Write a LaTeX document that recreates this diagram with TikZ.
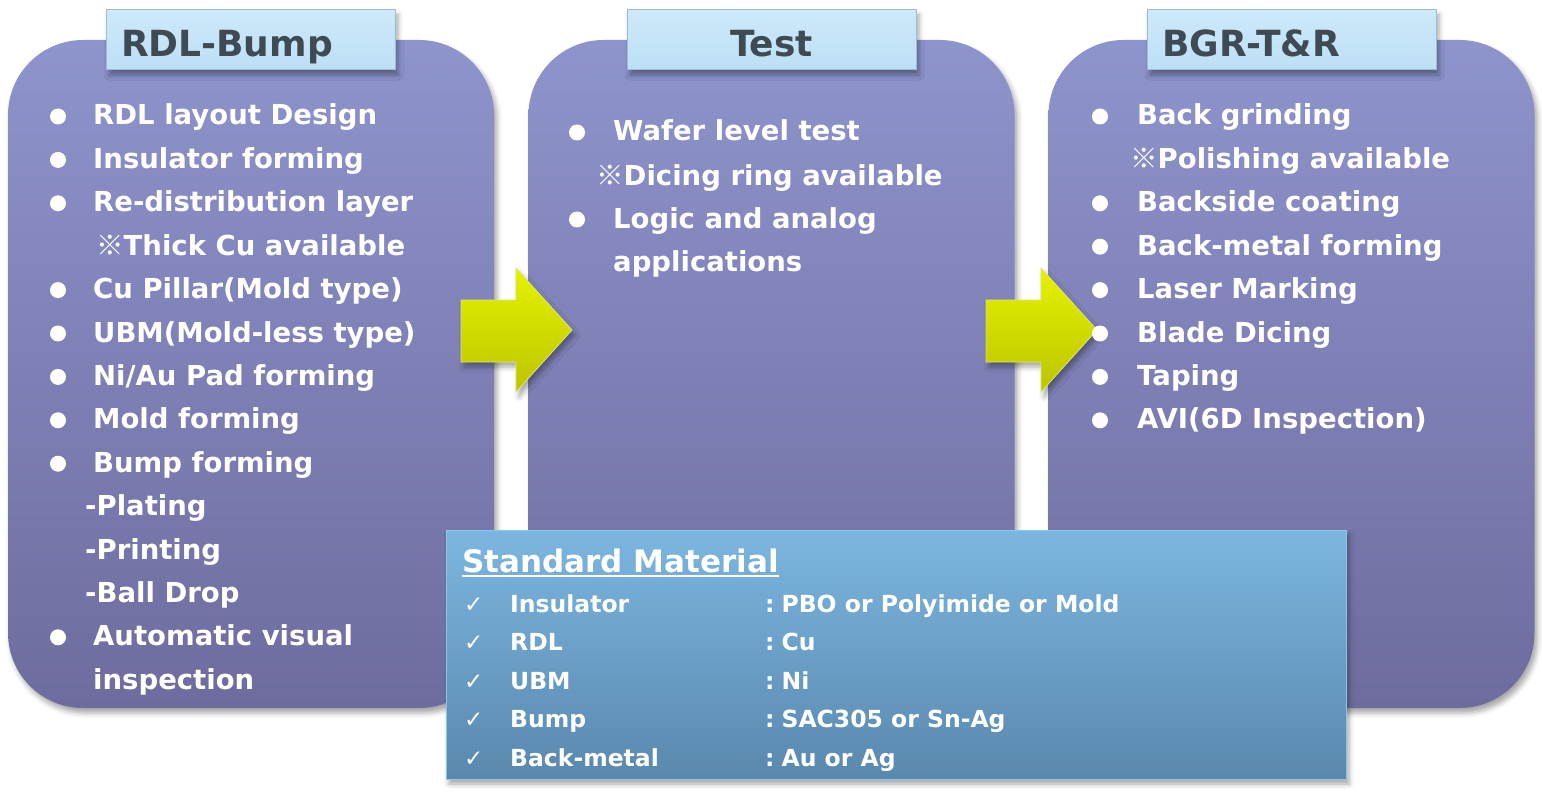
\documentclass[tikz,border=0pt]{standalone}
\usepackage{fontspec}
\setmainfont{DejaVu Sans}
\newfontfamily\cjk{Noto Sans CJK JP}
\usetikzlibrary{shadows.blur,positioning}
\definecolor{paneltop}{HTML}{8E94CC}
\definecolor{panelbot}{HTML}{6E6C9E}
\definecolor{titletop}{HTML}{CDE9FA}
\definecolor{titlebot}{HTML}{BDDFF4}
\definecolor{titleline}{HTML}{9FBDD0}
\definecolor{titletext}{HTML}{3E4A54}
\definecolor{mattop}{HTML}{7CB6E0}
\definecolor{matbot}{HTML}{5A88AD}
\definecolor{matline}{HTML}{8EC6EA}
\definecolor{arrowtop}{HTML}{E6F200}
\definecolor{arrowbot}{HTML}{BCC400}
\definecolor{arrowline}{HTML}{DDE86A}

\begin{document}
\begin{tikzpicture}[x=1pt,y=-1pt,
  soft shadow/.style={blur shadow={shadow xshift=3pt,shadow yshift=-5pt,shadow opacity=35,shadow blur radius=5pt}},
  panel/.style={rounded corners=75pt,top color=paneltop,bottom color=panelbot,minimum width=486pt,minimum height=668pt,inner sep=0pt,soft shadow},
  title box/.style={top color=titletop,bottom color=titlebot,draw=titleline,line width=1pt,minimum height=60pt,text width=259pt,inner xsep=15pt,inner ysep=0pt,text height=34pt,text depth=0pt,text=titletext,font=\fontsize{36pt}{40pt}\selectfont\bfseries,soft shadow},
  item/.style={anchor=base west,inner sep=0pt,text=white,font=\fontsize{27.5pt}{30pt}\selectfont\bfseries},
  dot/.style={circle,fill=white,inner sep=0pt,minimum size=16pt},
  yellow arrow/.style={top color=arrowtop,bottom color=arrowbot,draw=arrowline,line width=0.8pt,soft shadow},
  mat box/.style={top color=mattop,bottom color=matbot,draw=matline,line width=1pt,minimum width=900pt,minimum height=249pt,inner sep=0pt,soft shadow},
  mat item/.style={anchor=base west,inner sep=0pt,text=white,font=\fontsize{23.5pt}{28pt}\selectfont\bfseries},
  tick/.style={anchor=base west,inner sep=0pt,text=white,font=\fontsize{23pt}{26pt}\selectfont}]

  \useasboundingbox (0,0) rectangle (1542,797);

  \node[panel] (rdl) at (251,374) {};
  \node[panel] (test) at (771.5,374) {};
  \node[panel] (bgr) at (1291.5,374) {};

  \node[title box,align=left] (rdl title) at (250.5,40) {RDL-Bump};
  \node[title box,align=center] (test title) at (771.5,40) {Test};
  \node[title box,align=left] (bgr title) at (1291.5,40) {BGR-T\&R};

  \shade[yellow arrow] (461,300) -- (516,300) -- (516,268) -- (572,330) -- (516,392) -- (516,362) -- (461,362) -- cycle;
  \shade[yellow arrow] (986,300) -- (1041,300) -- (1041,268) -- (1097,330) -- (1041,392) -- (1041,362) -- (986,362) -- cycle;

  \foreach \n/\t in {1/RDL layout Design,2/Insulator forming,3/Re-distribution layer,5/{Cu Pillar(Mold type)},6/{UBM(Mold-less type)},7/{Ni/Au Pad forming},8/Mold forming,9/Bump forming,13/Automatic visual}
  {
    \node[dot] (rdl dot \n) at (58,{116.5+43.4*(\n-1)}) {};
    \node[item] (rdl item \n) at (93,{125+43.4*(\n-1)}) {\t};
  }
  \node[item] (rdl item 4) at (96,{125+43.4*3}) {{\cjk ※}Thick Cu available};
  \node[item] (rdl item 10) at (85,{125+43.4*9}) {-Plating};
  \node[item] (rdl item 11) at (85,{125+43.4*10}) {-Printing};
  \node[item] (rdl item 12) at (85,{125+43.4*11}) {-Ball Drop};
  \node[item] (rdl item 14) at (93,{125+43.4*13}) {inspection};

  \node[dot] (test dot 1) at (577,132.5) {};
  \node[item] (test item 1) at (613,141) {Wafer level test};
  \node[item] (test item 2) at (596,185) {{\cjk ※}Dicing ring available};
  \node[dot] (test dot 3) at (577,219.5) {};
  \node[item] (test item 3) at (613,228) {Logic and analog};
  \node[item] (test item 4) at (613,271) {applications};

  \foreach \n/\t in {1/Back grinding,3/Backside coating,4/Back-metal forming,5/Laser Marking,6/Blade Dicing,7/Taping,8/{AVI(6D Inspection)}}
  {
    \node[dot] (bgr dot \n) at (1100,{116.5+43.4*(\n-1)}) {};
    \node[item] (bgr item \n) at (1137,{125+43.4*(\n-1)}) {\t};
  }
  \node[item] (bgr item 2) at (1130,{125+43.4}) {{\cjk ※}Polishing available};

  \node[mat box] (mat) at (896,654.5) {};
  \node[mat item,font=\fontsize{31pt}{34pt}\selectfont\bfseries] (mat title) at (462,572) {Standard Material};
  \draw[white,line width=2pt] ([yshift=-4pt]mat title.base west) -- ([yshift=-4pt]mat title.base east);

  \foreach \n/\a/\b in {1/Insulator/PBO or Polyimide or Mold,2/RDL/Cu,3/UBM/Ni,4/Bump/SAC305 or Sn-Ag,5/Back-metal/Au or Ag}
  {
    \node[tick] (mat tick \n) at (464,{612+38.5*(\n-1)}) {✓};
    \node[mat item] (mat name \n) at (510,{612+38.5*(\n-1)}) {\a};
    \node[mat item] (mat value \n) at (765,{612+38.5*(\n-1)}) {:\hspace{7pt}\b};
  }
\end{tikzpicture}
\end{document}
